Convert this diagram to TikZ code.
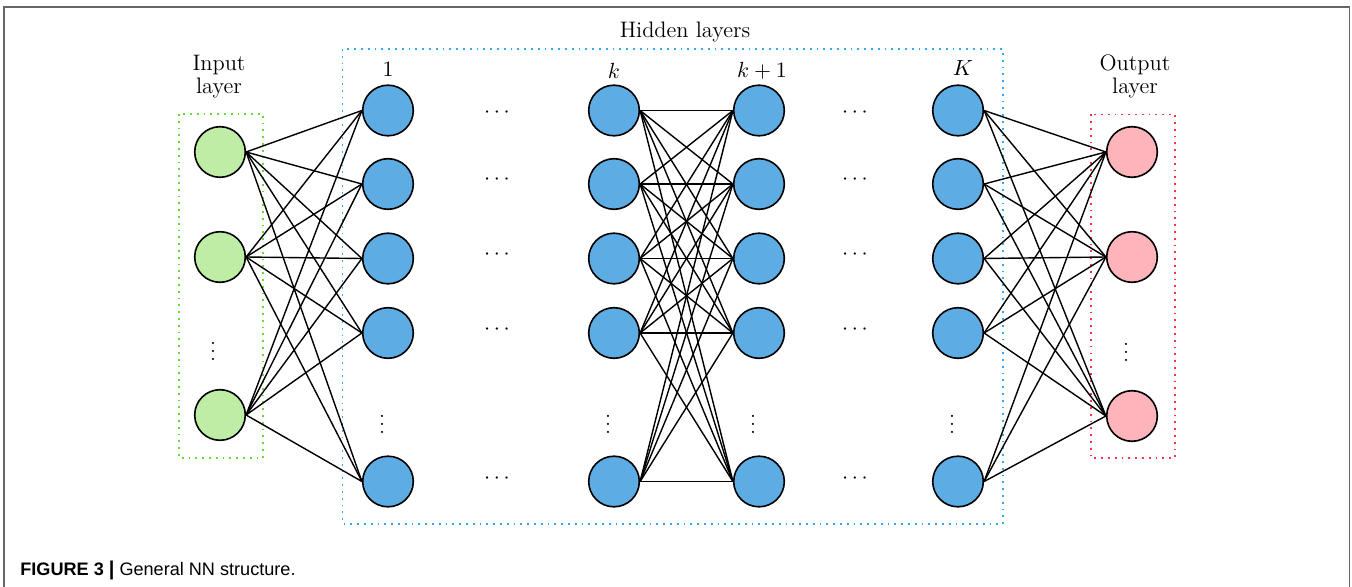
\documentclass[tikz,border=0pt]{standalone}
\usepackage{fontspec}
\newfontfamily\capfont{Liberation Sans}
\definecolor{nblue}{RGB}{93,173,228}
\definecolor{ngreen}{RGB}{192,237,166}
\definecolor{npink}{RGB}{255,179,186}
\definecolor{bgreen}{RGB}{102,221,51}
\definecolor{bblue}{RGB}{51,170,238}
\definecolor{bred}{RGB}{255,51,68}
\begin{document}
\begin{tikzpicture}[x=0.5pt,y=-0.5pt,
  neuron/.style={circle,draw=black,line width=0.8pt,minimum size=25.3pt,inner sep=0pt},
  hid/.style={neuron,fill=nblue},
  inp/.style={neuron,fill=ngreen},
  outp/.style={neuron,fill=npink},
  conn/.style={draw=black,line width=0.7pt},
  layerbox/.style={line width=0.9pt,dash pattern=on 0.9pt off 2.5pt},
  lbl/.style={font=\fontsize{11.2}{11.5}\selectfont,inner sep=0pt,align=center},
  dotsnode/.style={font=\fontsize{11}{11.5}\selectfont,inner sep=0pt}]
\useasboundingbox (0,0) rectangle (1352,587);
\draw[gray!80!black,line width=0.6pt] (4,590) -- (4,7) -- (1349.5,7) -- (1349.5,590);

% layer boxes
\draw[layerbox,bgreen] (179,114) rectangle (263,458);
\draw[layerbox,bblue] (342.5,49) rectangle (1003,524);
\draw[layerbox,bred] (1091,114.5) rectangle (1175,458);

% input layer
\node[inp] (i1) at (220,152) {};
\node[inp] (i2) at (220,257) {};
\node[inp] (i3) at (220,415) {};
\node[dotsnode] (id) at (213,345) {$\vdots$};

% output layer
\node[outp] (o1) at (1132,152) {};
\node[outp] (o2) at (1132,257) {};
\node[outp] (o3) at (1132,416) {};
\node[dotsnode] (od) at (1126,346) {$\vdots$};

% hidden layers
\foreach \c/\x in {a/388,b/614,c/759,d/958}{
  \node[hid] (\c1) at (\x,110.5) {};
  \node[hid] (\c2) at (\x,184) {};
  \node[hid] (\c3) at (\x,258.5) {};
  \node[hid] (\c4) at (\x,333) {};
  \node[hid] (\c6) at (\x,481.5) {};
  \node[dotsnode] (\c5) at (\x-6,418) {$\vdots$};
}
% horizontal dots
\foreach \x/\n in {497/p,855/q}{
  \foreach \y/\r in {113/1,180/2,255/3,330/4,479/6}{
    \node[dotsnode] (\n\r) at (\x,\y) {$\cdots$};
  }
}

% labels
\node[lbl] (hl) at (685,32) {Hidden layers};
\node[lbl,anchor=base] (il) at (219,94) {Input\\layer};
\node[lbl,anchor=base] (ol) at (1135,94) {Output\\layer};
\node[lbl] (l1) at (388,69) {$1$};
\node[lbl] (lk) at (614,71) {$k$};
\node[lbl] (lk1) at (762,71) {$k+1$};
\node[lbl] (lK) at (963,68) {$K$};

% connections
\foreach \s in {i1,i2,i3}{
  \foreach \t in {a1,a2,a3,a4,a6}{
    \draw[conn] (\s.east) -- (\t.west);
  }
}
\foreach \s in {b1,b2,b3,b4,b6}{
  \foreach \t in {c1,c2,c3,c4,c6}{
    \draw[conn] (\s.east) -- (\t.west);
  }
}
\foreach \s in {d1,d2,d3,d4,d6}{
  \foreach \t in {o1,o2,o3}{
    \draw[conn] (\s.east) -- (\t.west);
  }
}

% caption
\node[anchor=base west,inner sep=0pt,font=\capfont\fontsize{9.05}{10}\selectfont] (cap) at (20,575)
  {\textbf{FIGURE 3 {\fontsize{10}{10}\selectfont|}} General NN structure.};
\end{tikzpicture}
\end{document}
